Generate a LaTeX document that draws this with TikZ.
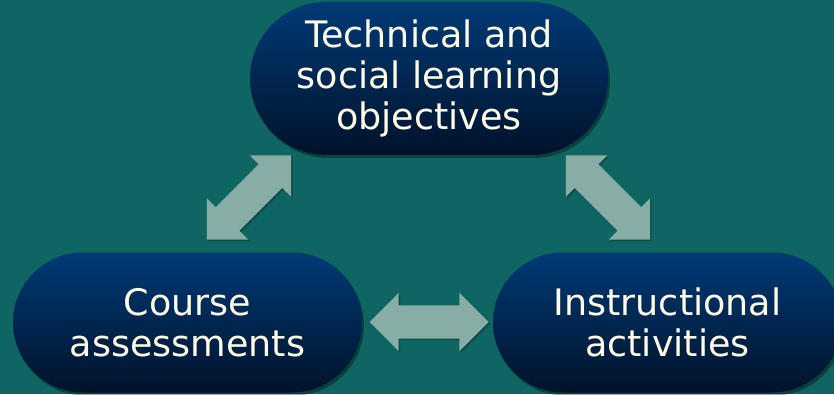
\documentclass[tikz,border=0pt]{standalone}
\usepackage{fontspec}
\setmainfont{DejaVu Sans}
\usetikzlibrary{shapes.misc,shapes.arrows,shadows}
\definecolor{bgteal}{RGB}{15,101,97}
\definecolor{pilltop}{RGB}{0,58,118}
\definecolor{pillmid}{RGB}{0,40,88}
\definecolor{pillbot}{RGB}{0,18,42}
\definecolor{txtcream}{RGB}{255,252,232}
\definecolor{arrowgray}{RGB}{135,173,166}
\tikzset{
  pill/.style={rounded rectangle, inner sep=0pt, align=center,
    top color=pilltop, middle color=pillmid, bottom color=pillbot,
    text=txtcream, font=\fontsize{36.5}{41}\selectfont,
    drop shadow={shadow xshift=2pt, shadow yshift=-3pt, opacity=0.35, fill=black}},
  dblarrow/.style={double arrow, fill=arrowgray, draw=none,
    minimum height=119pt, inner xsep=0pt, inner ysep=16.5pt,
    double arrow head extend=12.5pt, double arrow tip angle=90,
    drop shadow={shadow xshift=1.5pt, shadow yshift=-1.5pt, opacity=0.25, fill=black}}
}
\begin{document}
\begin{tikzpicture}[x=1pt,y=1pt]
\useasboundingbox (0,0) rectangle (834,394);
\fill[bgteal] (0,0) rectangle (834,394);
\clip (0,0) rectangle (834,394);
% arrows
\node[dblarrow] (a1) at (249,196.5) [rotate=45] {};
\node[dblarrow] (a2) at (608,196.5) [rotate=-45] {};
\node[dblarrow] (a3) at (429,72) {};
% nodes
\node[pill, minimum width=358pt, minimum height=153pt] (obj) at (429,315.5)
  {Technical and\\social learning\\objectives};
\node[pill, minimum width=349pt, minimum height=140pt] (ass) at (187.5,71.5)
  {Course\\assessments};
\node[pill, minimum width=349pt, minimum height=140pt] (act) at (667.5,71.5)
  {Instructional\\activities};
\end{tikzpicture}
\end{document}
